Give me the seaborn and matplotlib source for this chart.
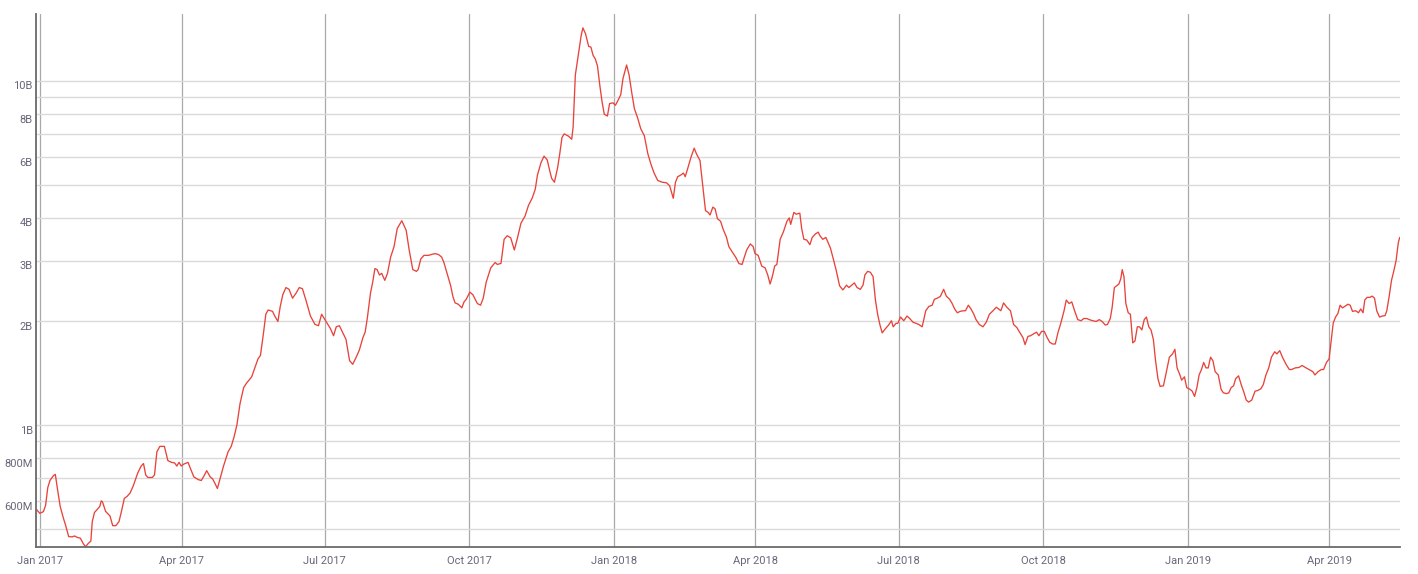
import numpy as np
import pandas as pd
import matplotlib
matplotlib.use("Agg")
import matplotlib.pyplot as plt
import matplotlib.dates as mdates
import matplotlib.ticker as mticker
from matplotlib.transforms import ScaledTranslation
import seaborn as sns

# ---- data (day offsets from 2017-01-01, values in billions) ----
day_offsets = [
    -2.6, -0.3, 2, 3.4, 4.8, 6.2, 8.2, 9.6, 11, 12.7, 14.7, 16.1, 18.1, 20.3, 21.8, 23.8, 25.5, 27.4, 28.8,
    30.8, 32.2, 33.1, 34.5, 36.5, 37.9, 38.8, 39.6, 41.6, 44.4, 46.1, 48.1, 50.1, 51.5, 53.5, 55.2, 57.2,
    59.2, 62, 64.2, 65.7, 67.1, 68.5, 71.3, 72.7, 74.2, 76.1, 79, 81.2, 83.5, 85.5, 86.9, 88.3, 89.7, 91.1,
    94, 95.4, 97.7, 100.5, 102.5, 104.5, 105.9, 108.1, 109.6, 111, 112.7, 114.4, 116.6, 119.5, 121.5, 123.2,
    125.1, 127.1, 129.4, 131.4, 133.1, 134.5, 136.5, 138.5, 140.1, 142.1, 143.5, 145, 147.8, 149.2, 151.2,
    152.6, 154.3, 156.3, 158.3, 160.5, 162.8, 164.8, 166.8, 169, 171.9, 174.7, 177, 179, 181.8, 184.6,
    186.6, 188.3, 190.3, 192.3, 194.5, 196.8, 198.8, 201, 203, 205.3, 206.7, 208.1, 210.1, 211.5, 212.9,
    214.3, 215.8, 217.2, 219.2, 220.9, 222.9, 225.1, 227.1, 230, 232.8, 234.7, 237, 239.3, 240.4, 242.1,
    244.1, 246.9, 249.2, 251.2, 253.4, 255.4, 256.8, 259.1, 261.1, 262.5, 263.9, 265.9, 268.2, 269.6, 271,
    273.3, 275.2, 278.1, 280.1, 281.8, 283.7, 286.6, 289.4, 290.8, 293.1, 295.1, 297.1, 299.3, 301.6,
    303.6, 305.8, 308.4, 310.6, 312.9, 314.9, 316.3, 318.6, 320.5, 322.5, 324.2, 325.4, 327.1, 329.1,
    330.5, 331.9, 333.3, 336.1, 338.1, 339, 340.4, 342.4, 344.1, 345.2, 346.9, 348.9, 350.3, 351.7, 353.1,
    354.5, 356, 357.4, 358.8, 360.8, 362.2, 364.4, 365.9, 367.8, 369.3, 370.7, 373, 374.6, 376.3, 378,
    380, 382, 384.3, 386.5, 388.5, 390.5, 392.8, 395.6, 398.4, 400.4, 402.7, 404.1, 405.5, 407.5, 409.2,
    410.3, 412, 414, 416, 417.4,
    419.7, 421.2, 423.2, 424.9, 426.1, 427.9, 429.3, 430.8, 432.8, 434.3, 436.6, 438, 440.1, 442.4, 444.5,
    446.5, 447.9, 449.4, 451.7, 453.5, 454.7, 456.7, 459, 461.1, 462.8, 464.3, 465.7, 467.2, 468.6, 470.7,
    472.7, 475, 476.5, 477.4, 479.4, 480.9, 483.2, 484.4, 485.8, 487.6, 489.6, 491.1, 493.1, 494.9, 496,
    497.8, 499.8, 501.3, 502.7, 504.8, 506.5, 508.5, 510.6, 512.9, 514.4, 515.8, 517.9, 519.6, 521.7,
    523.4, 524.6, 526.3, 528.1, 529.8, 531.3, 532.7, 534.2, 535.6, 537.7, 539.7, 541.5, 542.6, 544.4,
    545.5, 547.3, 549.3, 551.4, 553.1, 555.2, 557.2, 558.9, 561, 561.8, 563.3, 565.3, 567.4, 568.8, 570.6,
    572.6, 574.7, 576.4, 578.5, 579.9, 581.7, 583.4, 585.2, 587.2, 588.6, 590.4, 592.1, 593.9, 595.3,
    597.4, 599.7, 601.8, 603.8, 606.1, 608.2, 609.6, 611.1, 612.8, 614.9, 617.2, 619.2, 621.3, 623, 625.1,
    626.5, 628.3, 630, 631.8, 633.8, 635.3, 637, 638.7, 640.5, 642.2, 644, 645.7, 647.5, 649.2, 651.3,
    652.7, 654.5, 656.2, 658, 660, 662.1, 663.8, 665.8, 667.3, 669.6, 671.7, 673.7, 675.5, 677.5, 678.9,
    680.7, 681.9, 683.3, 684.8, 686.2, 687.4, 688.3, 689.4, 690.6, 692.1, 693.5, 695, 696.4, 697.9, 699.3,
    700.8, 702.3, 703.7, 705.2, 706.6, 708.1, 709.5, 711, 712.4, 714.5, 716.2, 718.3, 720.3, 721.8, 723.2,
    725, 726.1, 727.9, 729.3, 731.4, 732.8, 734.3, 735.8, 737.2, 738.7, 740.1, 741.6, 743, 744.5, 746,
    747.4, 749.4, 751.2, 752.6, 754.7, 756.1, 757.6, 759.1, 760.5, 762.3, 764, 765.8, 767.2, 768.7, 770.7,
    772.8, 774.5, 776.5, 778, 779.7, 781.5, 783.2, 785.3, 786.7, 788.5, 790.2, 792.5, 794.6, 796, 798.4,
    800.7, 802.7, 804.8, 807.1, 809.5, 810.9, 812.9, 815, 816.4, 818.2, 819.9, 821.1, 822.5, 824, 825.5,
    826.9, 828.4, 829.8, 831.9, 833.3, 834.8, 836.8, 838.6, 840, 841.5, 842.6, 844.1, 845.8, 847.3, 848.8,
    850.2, 852, 853.7, 855.5, 856.6, 858.1, 859.6, 861, 862.5, 863.9, 864.8,
]

values_b = [
    0.570, 0.554, 0.560, 0.584, 0.658, 0.690, 0.711, 0.719, 0.650, 0.580, 0.537, 0.512, 0.474, 0.473, 0.476,
    0.471, 0.469, 0.452, 0.443, 0.454, 0.460, 0.524, 0.557, 0.570, 0.580, 0.602, 0.598, 0.561, 0.544, 0.510,
    0.510, 0.524, 0.557, 0.612, 0.620, 0.635, 0.666, 0.725, 0.760, 0.773, 0.716, 0.704, 0.704, 0.716, 0.836,
    0.867, 0.867, 0.788, 0.779, 0.776, 0.760, 0.779, 0.760, 0.769, 0.779, 0.751, 0.707, 0.694, 0.690, 0.716,
    0.737, 0.707, 0.698, 0.679, 0.654, 0.698, 0.760, 0.836, 0.867, 0.920, 1.0, 1.154, 1.285, 1.327, 1.355,
    1.381, 1.466, 1.556, 1.594, 1.862, 2.099, 2.160, 2.14, 2.074, 2.0, 2.201, 2.393, 2.51, 2.48, 2.337,
    2.42, 2.51, 2.49, 2.309, 2.074, 1.963, 1.944, 2.099, 2.0, 1.907, 1.818, 1.93, 1.944, 1.862, 1.775,
    1.538, 1.502, 1.575, 1.652, 1.797, 1.862, 2.049, 2.42, 2.602, 2.85, 2.83, 2.73, 2.76, 2.634, 2.76,
    3.076, 3.305, 3.725, 3.926, 3.68, 3.227, 2.83, 2.797, 2.83, 3.04, 3.113, 3.113, 3.135, 3.15, 3.13,
    3.076, 2.968, 2.73, 2.54, 2.365, 2.265, 2.245, 2.191, 2.28, 2.32, 2.434, 2.393, 2.255, 2.23, 2.337,
    2.602, 2.864, 2.968, 2.93, 2.95, 3.466, 3.55, 3.50, 3.227, 3.50, 3.86, 4.05, 4.35, 4.56, 4.846, 5.33,
    5.797, 6.05, 5.90, 5.46, 5.205, 5.08, 5.59, 6.15, 6.85, 7.02, 6.91, 6.77, 7.36, 10.41, 12.02, 13.54,
    14.27, 13.71, 12.60, 12.55, 11.87, 11.59, 11.05, 9.69, 8.70, 8.006, 7.91, 8.60, 8.64, 8.50, 8.83, 9.13,
    10.16, 11.13, 10.41, 9.24, 8.30, 7.82, 7.27, 6.93, 6.15, 5.73, 5.40, 5.14, 5.08, 5.06, 4.96, 4.56, 5.08,
    5.27, 5.33, 5.40, 5.27, 5.59, 6.01, 6.38, 6.15,
    5.87, 5.08, 4.20, 4.15, 4.08, 4.30, 4.25, 3.98, 3.91, 3.72, 3.51, 3.305, 3.19, 3.076, 2.946, 2.93,
    3.076, 3.227, 3.36, 3.305, 3.15, 3.113, 2.897, 2.864, 2.73, 2.57, 2.70, 2.897, 2.93, 3.466, 3.637, 3.91,
    4.00, 3.83, 4.15, 4.10, 4.13, 3.72, 3.466, 3.45, 3.345, 3.51, 3.593, 3.637, 3.55, 3.466, 3.51, 3.38,
    3.266, 3.004, 2.797, 2.54, 2.47, 2.55, 2.51, 2.54, 2.59, 2.51, 2.48, 2.55, 2.73, 2.797, 2.78, 2.70,
    2.309, 2.099, 1.953, 1.853, 1.907, 1.953, 2.01, 1.93, 1.975, 1.975, 2.06, 2.01, 2.074, 2.04, 1.99,
    1.975, 1.96, 1.93, 2.0, 2.149, 2.212, 2.23, 2.32, 2.337, 2.365, 2.48, 2.37, 2.32, 2.265, 2.175, 2.12,
    2.14, 2.149, 2.149, 2.23, 2.175, 2.099, 2.025, 1.96, 1.93, 1.99, 2.099, 2.149, 2.20, 2.175, 2.149,
    2.265, 2.20, 2.149, 1.96, 1.92, 1.862, 1.797, 1.713, 1.81, 1.818, 1.84, 1.862, 1.818, 1.872, 1.872,
    1.797, 1.74, 1.72, 1.72, 1.862, 1.975, 2.149, 2.309, 2.255, 2.28, 2.149, 2.025, 2.01, 2.04, 2.04,
    2.025, 2.01, 2.0, 2.025, 2.0, 1.953, 1.96, 2.04, 2.20, 2.51, 2.54, 2.57, 2.666, 2.83, 2.70, 2.255,
    2.12, 2.099, 1.733, 1.755, 1.93, 1.93, 1.89, 2.025, 2.06, 1.93, 1.89, 1.775, 1.538, 1.365, 1.295,
    1.30, 1.414, 1.575, 1.61, 1.66, 1.466, 1.398, 1.35, 1.381, 1.285, 1.27, 1.255, 1.211, 1.285, 1.398,
    1.45, 1.52, 1.466, 1.466, 1.575, 1.538, 1.43, 1.398, 1.27, 1.241, 1.234, 1.241, 1.285, 1.30, 1.365,
    1.39, 1.31, 1.241, 1.182, 1.166, 1.182, 1.255, 1.26, 1.275, 1.31, 1.398, 1.466, 1.575, 1.633, 1.61,
    1.645, 1.575, 1.502, 1.45, 1.45, 1.466, 1.47, 1.49, 1.47, 1.45, 1.43, 1.398, 1.43, 1.45, 1.45, 1.52,
    1.556, 1.733, 1.977, 2.06, 2.11, 2.23, 2.19, 2.212, 2.245, 2.23, 2.14, 2.149, 2.12, 2.175, 2.12,
    2.309, 2.35, 2.35, 2.37, 2.337, 2.149, 2.06, 2.074, 2.08, 2.149, 2.365, 2.634, 2.797, 3.004, 3.385,
    3.51,
]

major_ticks_b = [0.6, 0.8, 1, 2, 3, 4, 6, 8, 10]
major_labels = ["600M", "800M", "1B", "2B", "3B", "4B", "6B", "8B", "10B"]
minor_ticks_b = [0.5, 0.7, 0.9, 5, 7, 9]

start = pd.Timestamp("2017-01-01")
df = pd.DataFrame({
    "date": start + pd.to_timedelta(np.array(day_offsets), unit="D"),
    "value": np.array(values_b) * 1e9,
})

# ---- style ----
sns.set_style("white")
plt.rcParams["font.family"] = ["Roboto", "DejaVu Sans"]

fig = plt.figure(figsize=(14.18, 5.74), dpi=100)
ax = fig.add_axes([36.3 / 1418, (574 - 546.7) / 574, (1400 - 36.3) / 1418, (546.7 - 13.6) / 574])

sns.lineplot(data=df, x="date", y="value", ax=ax, color="#e8433b", linewidth=0.95,
             estimator=None, sort=True)

ax.set_yscale("log")
ax.set_ylim(443e6, 15.7e9)
ax.set_xlim(start - pd.Timedelta(days=2.5), start + pd.Timedelta(days=865))

ax.yaxis.set_major_locator(mticker.FixedLocator([v * 1e9 for v in major_ticks_b]))
ax.yaxis.set_major_formatter(mticker.FixedFormatter(major_labels))
ax.yaxis.set_minor_locator(mticker.FixedLocator([v * 1e9 for v in minor_ticks_b]))
ax.yaxis.set_minor_formatter(mticker.NullFormatter())

ax.xaxis.set_major_locator(mdates.MonthLocator(bymonth=[1, 4, 7, 10]))
ax.xaxis.set_major_formatter(mdates.DateFormatter("%b %Y"))

ax.grid(axis="y", which="both", color="#dadada", linewidth=1.0)
ax.grid(axis="x", which="major", color="#a9a9a9", linewidth=0.9)
ax.set_axisbelow(True)

for s in ["top", "right"]:
    ax.spines[s].set_visible(False)
for s in ["left", "bottom"]:
    ax.spines[s].set_color("#6a6a6a")
    ax.spines[s].set_linewidth(1.3)

label_color = "#676779"
ax.tick_params(axis="y", which="both", length=0, pad=2.5, labelsize=8, labelcolor=label_color)
ax.tick_params(axis="x", which="both", length=0, pad=6.5, labelsize=8, labelcolor=label_color)

ax.set_xlabel("")
ax.set_ylabel("")

offset = ScaledTranslation(0, -4.5 / 100, fig.dpi_scale_trans)
for lbl in ax.get_yticklabels():
    lbl.set_transform(lbl.get_transform() + offset)

fig.savefig("out.png", dpi=100)
